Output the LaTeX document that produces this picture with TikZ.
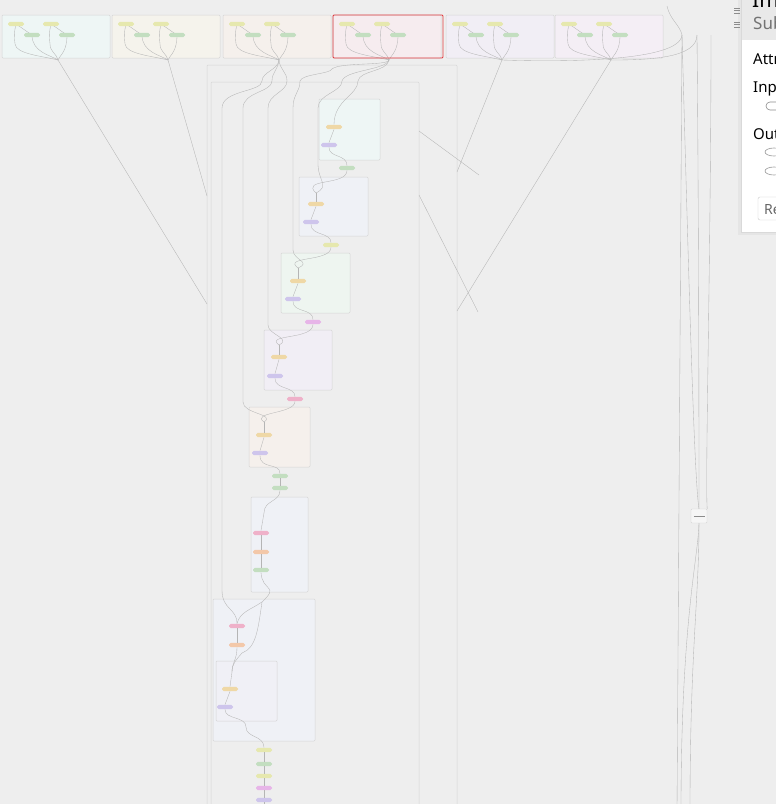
\documentclass[tikz,border=0pt]{standalone}
\usepackage{fontspec}
\setmainfont{Noto Sans}
\definecolor{canvas}{HTML}{EEEEEE}
\definecolor{frame}{HTML}{D6D6D6}
\definecolor{wire}{HTML}{B5B5B5}
\definecolor{fillA}{HTML}{EEF6F5}
\definecolor{fillB}{HTML}{F5F3EC}
\definecolor{fillC}{HTML}{F5F0EC}
\definecolor{fillD}{HTML}{F6ECEF}
\definecolor{fillE}{HTML}{F1EEF5}
\definecolor{fillF}{HTML}{F4EEF5}
\definecolor{fillG}{HTML}{EFF1F6}
\definecolor{fillH}{HTML}{EEF5F0}
\definecolor{selred}{HTML}{E0393E}
\definecolor{pYellow}{HTML}{E6E8AE}
\definecolor{pGreen}{HTML}{C3DEC0}
\definecolor{pOrange}{HTML}{EFD8A6}
\definecolor{pPurple}{HTML}{CEC5EC}
\definecolor{pMagenta}{HTML}{E7B5E8}
\definecolor{pPink}{HTML}{EFB1C9}
\definecolor{pSalmon}{HTML}{F3C8A9}
\definecolor{panelhead}{HTML}{E9E9E9}
\begin{document}
\begin{tikzpicture}[x=1pt,y=-1pt,
  cluster/.style={draw=frame,line width=0.5pt,rounded corners=1pt},
  pill/.style={rectangle,rounded corners=1.8pt,minimum width=16pt,minimum height=4.4pt,inner sep=0pt},
  edge/.style={draw=wire,line width=0.35pt},
  paneltext/.style={anchor=base west,inner sep=0pt},
]
\useasboundingbox (0,0) rectangle (776,804);
\fill[canvas] (0,0) rectangle (776,804);

% ---- subgraph row along the top ----
\foreach \bx/\col [count=\i] in {2/fillA,112/fillB,223/fillC,333/fillD,446/fillE,555/fillF}{
  \draw[cluster,fill=\col] (\bx,15) rectangle ++(108,43);
  \coordinate (la\i) at (\bx+13,44);
  \coordinate (lb\i) at (\bx+48,44);
  \coordinate (m\i) at (\bx+56,60);
  \coordinate (pa\i) at (\bx+14,24);
  \coordinate (pb\i) at (\bx+49,24);
  \coordinate (qa\i) at (\bx+30,35);
  \coordinate (qb\i) at (\bx+65,35);
  \draw[edge] (pa\i) .. controls (\bx+12,34) .. (la\i) .. controls (\bx+14,54) and (\bx+40,56) .. (m\i);
  \draw[edge] (pa\i) -- (qa\i);
  \draw[edge] (qa\i) .. controls (\bx+30,52) and (\bx+48,55) .. (m\i);
  \draw[edge] (pb\i) .. controls (\bx+47,34) .. (lb\i) .. controls (\bx+48,52) and (\bx+55,54) .. (m\i);
  \draw[edge] (pb\i) -- (qb\i);
  \draw[edge] (qb\i) .. controls (\bx+65,52) and (\bx+58,55) .. (m\i);
  \node[pill,fill=pYellow] (ya\i) at (pa\i) {};
  \node[pill,fill=pYellow] (yb\i) at (pb\i) {};
  \node[pill,fill=pGreen] (ga\i) at (qa\i) {};
  \node[pill,fill=pGreen] (gb\i) at (qb\i) {};
}
\draw[selred,line width=0.9pt,rounded corners=1pt] (333,15) rectangle (443,58);

% ---- nested containers ----
\draw[cluster,fill=canvas] (207,65) rectangle (457,830);
\draw[cluster,fill=canvas] (211,82) rectangle (419,830);

% ---- inner blocks of the main chain ----
\draw[cluster,fill=fillA] (319,99) rectangle (380,160);
\draw[cluster,fill=fillG] (299,177) rectangle (368,236);
\draw[cluster,fill=fillH] (281,253) rectangle (350,313);
\draw[cluster,fill=fillE] (264,330) rectangle (332,390);
\draw[cluster,fill=fillC] (249,407) rectangle (310,467);
\draw[cluster,fill=fillG] (251,497) rectangle (308,592);
\draw[cluster,fill=fillG] (213,599) rectangle (315,741);
\draw[cluster,fill=fillG!60!fillE] (216,661) rectangle (277,721);

% ---- connection points ----
\coordinate (otitle) at (332,69);
\coordinate (s1) at (262,81);
\coordinate (s2) at (272,81);
\coordinate (s3) at (287,81);
\coordinate (s4) at (300,81);
\coordinate (s5) at (342,81);
\coordinate (s6) at (358,81);
\coordinate (v1a) at (222,108); \coordinate (v1b) at (222,590);
\coordinate (v2a) at (243,108); \coordinate (v2b) at (243,402);
\coordinate (v3a) at (268,108); \coordinate (v3b) at (268,325);
\coordinate (v4a) at (293,108); \coordinate (v4b) at (293,250);
\coordinate (v5a) at (318,108); \coordinate (v5b) at (318,165);
\coordinate (e1) at (207,304);
\coordinate (e2) at (207,196);
\coordinate (e5) at (457,172);
\coordinate (e6) at (457,311);
\coordinate (x1a) at (419,131); \coordinate (x1b) at (479,175);
\coordinate (x2a) at (419,195); \coordinate (x2b) at (478,312);
\coordinate (c2in) at (316,193);
\coordinate (c3in) at (298,268);
\coordinate (c4in) at (279,345);
\coordinate (c5in) at (264,422);
\coordinate (c6in) at (264,513);
\coordinate (c7t) at (262,602);
\coordinate (c7r) at (242,653);
\coordinate (c8in) at (232,672);
\coordinate (c8out) at (246,727);
\coordinate (tail) at (264,812);

% ---- main chain nodes ----
\node[pill,fill=pOrange] (c1o) at (334,127) {};
\node[pill,fill=pPurple] (c1p) at (329,145) {};
\node[pill,fill=pGreen] (g1) at (347,168) {};
\node[pill,fill=pOrange] (c2o) at (316,204) {};
\node[pill,fill=pPurple] (c2p) at (311,222) {};
\node[pill,fill=pYellow] (y1) at (331,245) {};
\node[pill,fill=pOrange] (c3o) at (298,281) {};
\node[pill,fill=pPurple] (c3p) at (293,299) {};
\node[pill,fill=pMagenta] (k0) at (313,322) {};
\node[pill,fill=pOrange] (c4o) at (279,357) {};
\node[pill,fill=pPurple] (c4p) at (275,376) {};
\node[pill,fill=pPink] (k1) at (295,399) {};
\node[pill,fill=pOrange] (c5o) at (264,435) {};
\node[pill,fill=pPurple] (c5p) at (260,453) {};
\node[pill,fill=pGreen] (g2) at (280,476) {};
\node[pill,fill=pGreen] (g3) at (280,488) {};
\node[pill,fill=pPink] (c6k) at (261,533) {};
\node[pill,fill=pSalmon] (c6s) at (261,552) {};
\node[pill,fill=pGreen] (c6g) at (261,570) {};
\node[pill,fill=pPink] (c7k) at (237,626) {};
\node[pill,fill=pSalmon] (c7s) at (237,645) {};
\node[pill,fill=pOrange] (c8o) at (230,689) {};
\node[pill,fill=pPurple] (c8p) at (225,707) {};
\node[pill,fill=pYellow] (b1) at (264,750) {};
\node[pill,fill=pGreen] (b2) at (264,764) {};
\node[pill,fill=pYellow] (b3) at (264,776) {};
\node[pill,fill=pMagenta] (b4) at (264,788) {};
\node[pill,fill=pPurple] (b5) at (264,800) {};

% ---- wires ----
\begin{scope}[every path/.style={edge}]
\draw (m1) -- (e1);
\draw (m2) -- (e2);
\draw (m5) -- (e5);
\draw (m6) -- (e6);
\draw (x1a) -- (x1b);
\draw (x2a) -- (x2b);
\draw (m3) .. controls (278,70) and (262,72) .. (s1);
\draw (m3) .. controls (278,70) and (272,72) .. (s2);
\draw (m3) .. controls (280,70) and (287,72) .. (s3);
\draw (m4) .. controls (388,66) and (340,62) .. (otitle);
\draw (otitle) .. controls (330,74) and (302,74) .. (s4);
\draw (m4) .. controls (386,70) and (345,70) .. (s5);
\draw (m4) .. controls (387,72) and (360,70) .. (s6);
\draw (s1) .. controls (262,92) and (222,90) .. (v1a) -- (v1b);
\draw (s2) .. controls (272,92) and (243,92) .. (v2a) -- (v2b);
\draw (s3) .. controls (287,92) and (268,94) .. (v3a) -- (v3b);
\draw (s4) .. controls (300,92) and (293,94) .. (v4a) -- (v4b);
\draw (s5) .. controls (342,92) and (318,94) .. (v5a) -- (v5b);
\draw (s6) .. controls (358,95) and (334,100) .. (c1o.north);
% first block
\draw (c1o.south) -- (c1p.north);
\draw (c1p.south) .. controls (329,158) and (347,154) .. (g1.north);
\draw (g1.south) .. controls (347,186) and (300,178) .. (c2in);
\draw (v5b) .. controls (318,180) and (330,186) .. (c2in);
\draw (c2in) -- (c2o.north);
\draw (c2o.south) -- (c2p.north);
\draw (c2p.south) .. controls (311,236) and (331,232) .. (y1.north);
\draw (y1.south) .. controls (331,262) and (282,256) .. (c3in);
\draw (v4b) .. controls (293,260) and (312,262) .. (c3in);
\draw (c3in) -- (c3o.north);
\draw (c3o.south) -- (c3p.north);
\draw (c3p.south) .. controls (293,313) and (313,308) .. (k0.north);
\draw (k0.south) .. controls (313,340) and (264,334) .. (c4in);
\draw (v3b) .. controls (268,335) and (292,338) .. (c4in);
\draw (c4in) -- (c4o.north);
\draw (c4o.south) -- (c4p.north);
\draw (c4p.south) .. controls (275,390) and (295,386) .. (k1.north);
\draw (k1.south) .. controls (295,414) and (250,412) .. (c5in);
\draw (v2b) .. controls (243,414) and (276,414) .. (c5in);
\draw (c5in) -- (c5o.north);
\draw (c5o.south) -- (c5p.north);
\draw (c5p.south) .. controls (260,470) and (280,462) .. (g2.north);
\draw (g2.south) -- (g3.north);
\draw (g3.south) .. controls (280,502) and (264,500) .. (c6in);
\draw (c6in) -- (c6k.north);
\draw (c6k.south) -- (c6s.north);
\draw (c6s.south) -- (c6g.north);
\draw (c6g.south) .. controls (262,592) and (280,585) .. (c7t);
\draw (v1b) .. controls (222,610) and (237,608) .. (c7k.north);
\draw (c7t) .. controls (250,610) and (240,612) .. (c7k.north);
\draw (c7t) .. controls (258,630) and (256,648) .. (c7r);
\draw (c7k.south) -- (c7s.north);
\draw (c7s.south) .. controls (237,660) and (232,662) .. (c8in);
\draw (c7r) .. controls (236,660) and (232,664) .. (c8in);
\draw (c8in) -- (c8o.north);
\draw (c8o.south) -- (c8p.north);
\draw (c8p.south) .. controls (225,720) and (246,716) .. (c8out);
\draw (c8out) .. controls (246,738) and (264,735) .. (b1.north);
\draw (b1.south) -- (b2.north);
\draw (b2.south) -- (b3.north);
\draw (b3.south) -- (b4.north);
\draw (b4.south) -- (b5.north);
\draw (b5.south) -- (tail);
\end{scope}

% ---- right hand outputs ----
\coordinate (r0) at (667,6);
\coordinate (r1) at (682,35);
\coordinate (r2) at (697,35);
\coordinate (r3) at (711,35);
\coordinate (q1) at (677,812);
\coordinate (q2) at (690,812);
\coordinate (q3) at (681,812);
\node[draw=frame,fill=canvas!50!white,minimum width=16pt,minimum height=14pt,inner sep=0pt,rounded corners=1pt] (rb) at (699,516) {};
\draw[black!45,line width=0.4pt] ([xshift=3pt]rb.west) -- ([xshift=-2pt]rb.east);
\begin{scope}[every path/.style={edge}]
\draw (r0) .. controls (670,20) and (680,25) .. (r1);
\draw (m5) .. controls (560,62) and (680,62) .. (r1);
\draw (m6) .. controls (650,60) and (697,58) .. (r2);
\draw (r1) -- (q1);
\draw (r1) .. controls (688,250) and (694,480) .. (rb.north);
\draw (r2) .. controls (699,250) and (699,480) .. (rb.north);
\draw (r3) .. controls (711,250) and (705,480) .. (rb.north east);
\draw (rb.south) .. controls (699,600) and (690,650) .. (q2);
\draw (rb.south) .. controls (698,560) and (681,620) .. (q3);
\end{scope}

% ---- side panel ----
\fill[black!10] (738,0) rectangle (776,235);
\fill[panelhead] (741,0) rectangle (776,40);
\fill[white] (741,40) rectangle (776,232);
\draw[black!15,line width=0.5pt] (741,0) -- (741,232) -- (776,232);
\node[paneltext,font=\fontsize{21}{24}\selectfont\bfseries] (ptitle) at (752,7) {Imp};
\node[paneltext,text=black!55,font=\fontsize{17}{20}\selectfont] (psub) at (753,29) {Sub};
\node[paneltext,font=\fontsize{15}{18}\selectfont\bfseries] (pattr) at (753,64) {Attr};
\node[paneltext,font=\fontsize{15}{18}\selectfont\bfseries] (pin) at (753,92) {Inp};
\node[paneltext,font=\fontsize{15}{18}\selectfont\bfseries] (pout) at (753,139) {Out};
\draw[black!45,line width=0.6pt,rounded corners=4pt] (766,102) rectangle (784,110);
\draw[black!40,line width=0.6pt] (774,152) ellipse [x radius=9, y radius=4];
\draw[black!40,line width=0.6pt] (774,171) ellipse [x radius=9, y radius=4];
\draw[black!20,fill=white,rounded corners=2pt] (758,197) rectangle (792,220);
\node[paneltext,text=black!60,font=\fontsize{14}{16}\selectfont] (pbtn) at (764,214) {Re};
\foreach \yy in {8,10.5,13,22,24.5,27}{
  \draw[black!45,line width=0.6pt] (734,\yy) -- (740,\yy);
}
\end{tikzpicture}
\end{document}
